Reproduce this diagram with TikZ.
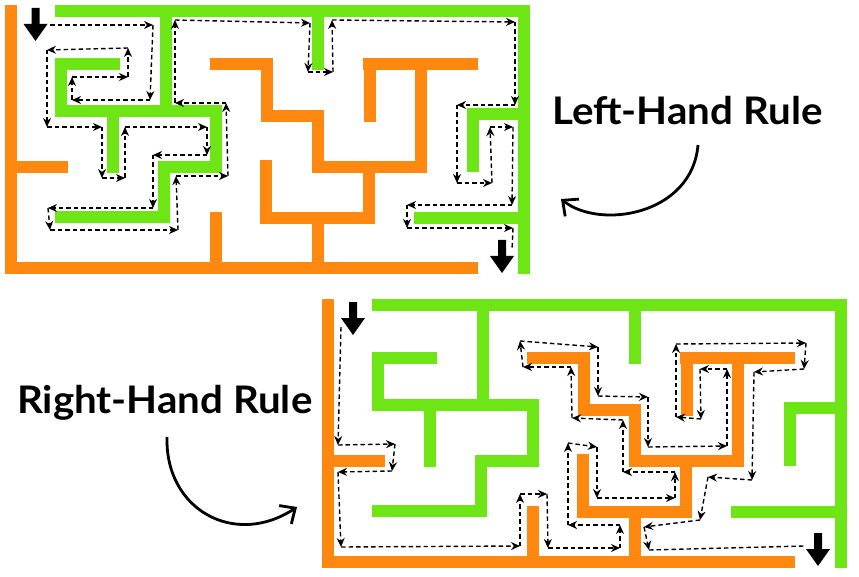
\documentclass[tikz,border=0pt]{standalone}
\usepackage{fontspec}
\setmainfont{Lato}[FakeStretch=1.06]
\usetikzlibrary{arrows.meta}
\definecolor{mgreen}{RGB}{110,230,22}
\definecolor{morange}{RGB}{255,136,17}
\tikzset{
  gwall/.style={draw=mgreen, line width=12pt, line cap=rect},
  owall/.style={draw=morange, line width=12pt, line cap=rect},
  trail/.style={line width=1.4pt, dash pattern=on 4.5pt off 3pt, -{Stealth[length=9pt,width=8pt]}},
  trailend/.style={line width=1.4pt, dash pattern=on 4.5pt off 3pt},
  ruletext/.style={font=\fontsize{38}{42}\selectfont\bfseries, inner sep=0pt, anchor=base west},
  bendarrow/.style={line width=2.8pt, -{Straight Barb[length=12pt,width=22pt,line width=2.8pt]}},
  exitarrow/.style={fill=black, draw=none}
}
\newcommand\mazewalls{%
  \draw[owall] (11,11) -- (11,268) -- (472,268);
  \draw[owall] (11,167) -- (62,167);
  \draw[owall] (216,64) -- (267,64) -- (267,116) -- (318,116) -- (318,167) -- (421,167) -- (421,64);
  \draw[owall] (369,64) -- (472,64);
  \draw[owall] (370,64) -- (370,116);
  \draw[owall] (266,166) -- (266,218) -- (369,218) -- (369,167);
  \draw[owall] (318,218) -- (318,268);
  \draw[owall] (216,218) -- (216,268);
  \draw[gwall] (61,11) -- (524,11) -- (524,268);
  \draw[gwall] (166,11) -- (166,111);
  \draw[gwall] (114,64) -- (61,64) -- (61,111) -- (216,111) -- (216,167) -- (164,167) -- (164,217) -- (61,217);
  \draw[gwall] (113,111) -- (113,167);
  \draw[gwall] (318,11) -- (318,64);
  \draw[gwall] (524,114) -- (473,114) -- (473,166);
  \draw[gwall] (420,218) -- (524,218);
}
\newcommand\blockarrow[2]{% center x, top y
  \fill[exitarrow] (#1-4,#2) -- (#1+4,#2) -- (#1+4,#2+16) -- (#1+12,#2+16)
    -- (#1,#2+33) -- (#1-12,#2+16) -- (#1-4,#2+16) -- cycle;
}
\newcommand\trailpath[1]{%
  \foreach \x/\y [count=\i, remember=\x as \px (initially 0), remember=\y as \py (initially 0)] in {#1} {%
    \ifnum\i>1 \draw[trail] (\px,\py) -- (\x,\y); \fi
  }%
}
\begin{document}
\begin{tikzpicture}[x=1pt,y=-1pt]
  \useasboundingbox[fill=white] (0,0) rectangle (859,577);
  % top maze
  \mazewalls
  \blockarrow{35.5}{8}
  \blockarrow{502}{240}
  \trailpath{50/25,153/25,150/100,72/100,72/77,128/77,128/48,47/50,47/127,102/127,102/178,125/178,125/127,207/127,207/155,153/155,153/208,48/208,50/230,178/230,176/176,228/176,226/103,175/103,175/20,310/23,308/72,333/72,332/20,515/22,515/105,457/105,457/183,492/183,490/127,513/127,512/205,407/205,407/228,513/228}
  \draw[trailend] (513,228) -- (512,250);
  % bottom maze
  \begin{scope}[shift={(317,294)}]
    \mazewalls
  \end{scope}
  \blockarrow{353}{302}
  \blockarrow{818}{533}
  \trailpath{341/327,338/445,395/444,392/471,338/472,341/547,520/546,520/494,547/494,548/548,620/548,620/525,568/525,568/443,597/447,597/498,675/498,675/472,623/472,623/420,572/418,571/367,523/367,520/341,598/347,598/396,648/397,648/447,727/446,727/369,700/369,701/419,676/417,676/344,806/343,804/369,754/372,752/480,708/477,700/520,644/527,649/550}
  \draw[trailend] (649,550) -- (804,546);
  % labels
  \node[ruletext] (lhr) at (552,125) {Left-Hand Rule};
  \node[ruletext] (rhr) at (17,413) {Right-Hand Rule};
  \coordinate (lstart) at (698,145);
  \coordinate (ltip) at (561,199);
  \coordinate (rstart) at (167,437);
  \coordinate (rtip) at (297,507);
  \draw[bendarrow] (lstart) .. controls (692,215) and (600,230) .. (ltip);
  \draw[bendarrow] (rstart) .. controls (165,510) and (235,548) .. (rtip);
\end{tikzpicture}
\end{document}
